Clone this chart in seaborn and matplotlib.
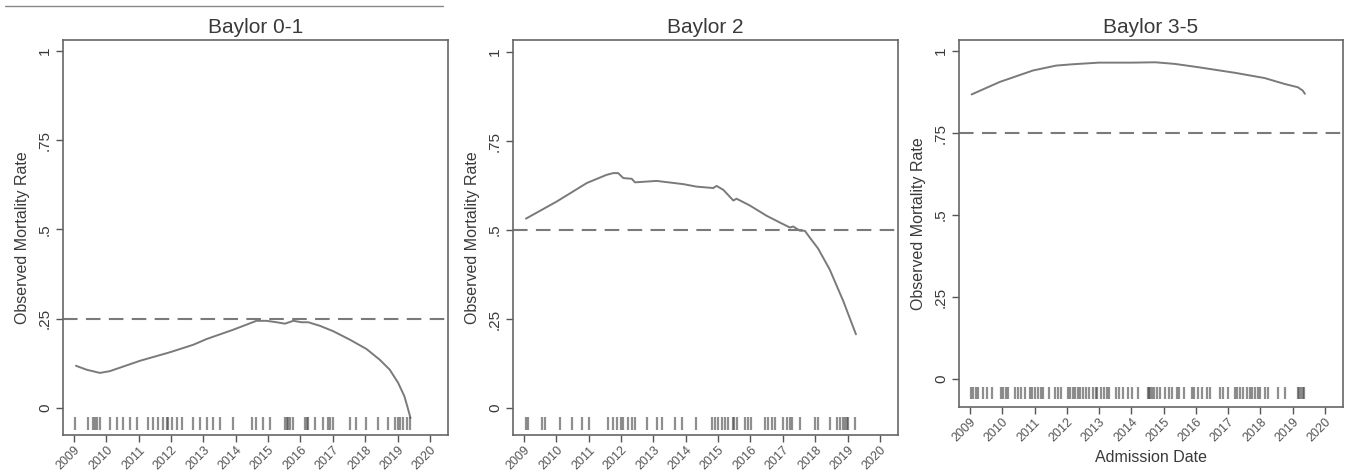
import matplotlib
matplotlib.use('Agg')
import matplotlib.pyplot as plt
import seaborn as sns
import pandas as pd
from matplotlib.lines import Line2D

# panel titles and reference lines
titles = ['Baylor 0-1', 'Baylor 2', 'Baylor 3-5']
ref_levels = [0.25, 0.5, 0.75]

# smoothed observed mortality
x_01 = [2009.06, 2009.39, 2009.80, 2010.11, 2011.04, 2011.97, 2012.69, 2013.10, 2013.92,
        2014.64, 2014.95, 2015.26, 2015.52, 2015.78, 2016.03, 2016.24, 2016.60, 2017.01,
        2017.53, 2018.04, 2018.45, 2018.76, 2019.02, 2019.21, 2019.30, 2019.40]
y_01 = [0.118, 0.107, 0.098, 0.103, 0.132, 0.156, 0.177, 0.193, 0.219,
        0.244, 0.244, 0.240, 0.236, 0.244, 0.240, 0.240, 0.230, 0.215,
        0.191, 0.165, 0.135, 0.107, 0.070, 0.033, 0.005, -0.028]

x_2 = [2009.06, 2010.01, 2010.94, 2011.55, 2011.76, 2011.91, 2012.07, 2012.33, 2012.43,
       2013.10, 2013.92, 2014.33, 2014.85, 2014.95, 2015.16, 2015.47, 2015.57, 2015.98,
       2016.50, 2016.91, 2017.22, 2017.32, 2017.53, 2017.68, 2017.84, 2018.09, 2018.45,
       2018.87, 2019.26]
y_2 = [0.532, 0.580, 0.632, 0.655, 0.660, 0.660, 0.646, 0.644, 0.634,
       0.638, 0.629, 0.622, 0.618, 0.624, 0.613, 0.583, 0.588, 0.569,
       0.540, 0.521, 0.507, 0.510, 0.498, 0.498, 0.478, 0.448, 0.389,
       0.300, 0.207]

x_35 = [2009.05, 2009.92, 2010.95, 2011.67, 2012.18, 2013.00, 2014.03, 2014.75, 2015.36,
        2016.08, 2017.21, 2018.13, 2018.75, 2019.16, 2019.31, 2019.38]
y_35 = [0.868, 0.906, 0.941, 0.956, 0.960, 0.965, 0.965, 0.966, 0.961,
        0.951, 0.934, 0.918, 0.900, 0.890, 0.880, 0.870]

# admission dates (rug)
rug_01 = [2009.03, 2009.44, 2009.60, 2009.65, 2009.70, 2009.80, 2010.11, 2010.32, 2010.52,
          2010.73, 2010.94, 2011.30, 2011.45, 2011.61, 2011.76, 2011.86, 2011.91, 2012.02,
          2012.17, 2012.33, 2012.69, 2012.89, 2013.10, 2013.30, 2013.51, 2013.92, 2014.49,
          2014.64, 2014.85, 2015.06, 2015.52, 2015.57, 2015.62, 2015.67, 2015.78, 2016.14,
          2016.19, 2016.24, 2016.45, 2016.70, 2016.86, 2016.91, 2017.01, 2017.53, 2017.73,
          2018.04, 2018.40, 2018.71, 2018.92, 2019.02, 2019.07, 2019.18, 2019.28, 2019.38]
rug_2 = [2009.06, 2009.13, 2009.55, 2009.65, 2010.11, 2010.47, 2010.78, 2011.02, 2011.61,
         2011.76, 2011.86, 2011.99, 2012.07, 2012.22, 2012.33, 2012.43, 2012.79, 2013.10,
         2013.25, 2013.67, 2013.87, 2014.31, 2014.80, 2014.90, 2015.00, 2015.11, 2015.21,
         2015.31, 2015.45, 2015.49, 2015.57, 2015.83, 2015.93, 2016.03, 2016.45, 2016.55,
         2016.65, 2016.75, 2017.01, 2017.12, 2017.22, 2017.27, 2017.53, 2017.99, 2018.09,
         2018.45, 2018.66, 2018.76, 2018.87, 2018.92, 2018.97, 2019.02, 2019.23]
rug_35 = [2009.03, 2009.10, 2009.18, 2009.26, 2009.41, 2009.53, 2009.67, 2009.97, 2010.03,
          2010.11, 2010.18, 2010.39, 2010.49, 2010.59, 2010.72, 2010.85, 2010.93, 2011.00,
          2011.10, 2011.21, 2011.26, 2011.46, 2011.65, 2011.72, 2011.82, 2012.03, 2012.10,
          2012.18, 2012.26, 2012.34, 2012.41, 2012.49, 2012.59, 2012.69, 2012.80, 2012.90,
          2012.95, 2013.05, 2013.16, 2013.26, 2013.31, 2013.52, 2013.62, 2013.74, 2013.91,
          2014.01, 2014.21, 2014.52, 2014.56, 2014.59, 2014.64, 2014.70, 2014.80, 2014.90,
          2015.05, 2015.18, 2015.26, 2015.41, 2015.49, 2015.62, 2015.88, 2015.93, 2016.08,
          2016.20, 2016.34, 2016.44, 2016.75, 2016.85, 2017.00, 2017.21, 2017.29, 2017.36,
          2017.47, 2017.57, 2017.67, 2017.74, 2017.83, 2017.93, 2017.98, 2018.13, 2018.24,
          2018.54, 2018.75, 2019.16, 2019.21, 2019.26, 2019.31, 2019.36]

years = list(range(2009, 2021))
yticks = [0, 0.25, 0.5, 0.75, 1]
ytick_labels = ['0', '.25', '.5', '.75', '1']

sns.set_style('white')
plt.rcParams['font.family'] = ['Liberation Sans', 'DejaVu Sans']

fig = plt.figure(figsize=(13.51, 4.75), dpi=100)
W, H = 1351, 475
# axes boxes in pixels: left, top, right, bottom
boxes = [(63, 40, 448, 435), (513, 40, 898, 435), (959, 40, 1343, 407)]
ylims = [(-0.076, 1.031), (-0.076, 1.034), (-0.085, 1.034)]

series = [(x_01, y_01, rug_01), (x_2, y_2, rug_2), (x_35, y_35, rug_35)]
gray = '#7a7a7a'
text_c = '#3a3a3a'

for i, (box, (xs, ys, rug)) in enumerate(zip(boxes, series)):
    l, t, r, b = box
    ax = fig.add_axes([l / W, 1 - b / H, (r - l) / W, (b - t) / H])
    df = pd.DataFrame({'date': xs, 'rate': ys})
    sns.lineplot(data=df, x='date', y='rate', ax=ax, color=gray, linewidth=1.4,
                 sort=False, estimator=None)
    ax.vlines(rug, -0.062, -0.025, color='#444444', alpha=0.6, linewidth=1.6)
    ax.axhline(ref_levels[i], color=gray, linewidth=1.5, dashes=(7, 4))
    ax.set_xlim(2008.66, 2020.56)
    ax.set_ylim(*ylims[i])
    ax.set_xticks(years)
    ax.set_xticklabels([str(y) for y in years], rotation=45, ha='right',
                       rotation_mode='anchor', fontsize=9, color='#555555')
    ax.set_yticks(yticks)
    ax.set_yticklabels(ytick_labels, rotation=90, va='center', fontsize=11,
                       color=text_c)
    ax.tick_params(axis='y', direction='out', length=5, width=1,
                   color='#555555', left=True, pad=3)
    ax.tick_params(axis='x', direction='out', length=5, width=1,
                   color='#555555', bottom=True, pad=1.5)
    ax.set_ylabel('Observed Mortality Rate', fontsize=11.5, color=text_c, labelpad=6)
    if i == 2:
        ax.set_xlabel('Admission Date', fontsize=11.5, color=text_c, labelpad=4)
    else:
        ax.set_xlabel('')
    ax.set_title(titles[i], fontsize=15, color=text_c, pad=5)
    for s in ax.spines.values():
        s.set_color('#666666')
        s.set_linewidth(1.2)

# thin rule at top left
fig.add_artist(Line2D([5 / W, 443 / W], [1 - 6 / H, 1 - 6 / H], color='#888888',
                      linewidth=1))

fig.savefig('out.png', dpi=100, facecolor='white')
